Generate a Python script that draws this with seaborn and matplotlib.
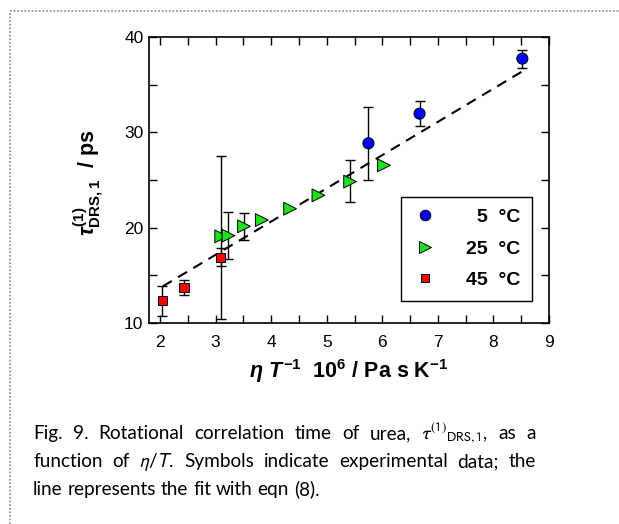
import numpy as np
import pandas as pd
import matplotlib
matplotlib.use("Agg")
import matplotlib.pyplot as plt
from matplotlib.lines import Line2D
from matplotlib.ticker import MultipleLocator
from matplotlib.transforms import IdentityTransform
import seaborn as sns

# data
x_5 = [5.75, 6.67, 8.52]
tau_5 = [28.85, 31.96, 37.73]
lo_5 = [25.03, 30.70, 36.80]
hi_5 = [32.66, 33.30, 38.60]

x_25 = [3.10, 3.23, 3.51, 3.83, 4.34, 4.85, 5.42, 6.03]
tau_25 = [19.09, 19.16, 20.14, 20.80, 21.99, 23.39, 24.83, 26.54]
lo_25 = [10.42, 16.71, 18.71, np.nan, np.nan, np.nan, 22.69, np.nan]
hi_25 = [27.55, 21.68, 21.57, np.nan, np.nan, np.nan, 27.06, np.nan]

x_45 = [2.04, 2.43, 3.09]
tau_45 = [12.34, 13.74, 16.89]
lo_45 = [10.77, 12.94, 15.94]
hi_45 = [13.92, 14.55, 17.83]

fit_x = [2.05, 8.55]
fit_y = [13.85, 36.50]

groups = ["5 °C", "25 °C", "45 °C"]
colors = {"5 °C": "#0000ff", "25 °C": "#1ee01e", "45 °C": "#ff0000"}
markers = {"5 °C": "o", "25 °C": ">", "45 °C": "s"}
msize = {"5 °C": 8.0, "25 °C": 9.2, "45 °C": 6.8}

df = pd.concat([
    pd.DataFrame({"x": x_5, "tau": tau_5, "lo": lo_5, "hi": hi_5, "T": "5 °C"}),
    pd.DataFrame({"x": x_25, "tau": tau_25, "lo": lo_25, "hi": hi_25, "T": "25 °C"}),
    pd.DataFrame({"x": x_45, "tau": tau_45, "lo": lo_45, "hi": hi_45, "T": "45 °C"}),
], ignore_index=True)
fit = pd.DataFrame({"x": fit_x, "y": fit_y})

sns.set_theme(style="ticks")
plt.rcParams["font.family"] = ["Liberation Sans", "DejaVu Sans"]
plt.rcParams["mathtext.fontset"] = "custom"
plt.rcParams["mathtext.rm"] = "Liberation Sans:bold"
plt.rcParams["mathtext.it"] = "Liberation Sans:italic:bold"
plt.rcParams["mathtext.bf"] = "Liberation Sans:bold"

fig = plt.figure(figsize=(6.19, 5.24), dpi=100)
ax = fig.add_axes([0.2407, 0.3836, 0.6462, 0.5458])

# dashed fit line
sns.lineplot(data=fit, x="x", y="y", ax=ax, color="black", lw=1.5,
             dashes=False, zorder=1).lines[0].set_dashes((5, 3.5))

# error bars
err = df.dropna(subset=["lo"])
ax.errorbar(err["x"], err["tau"], yerr=[err["tau"] - err["lo"], err["hi"] - err["tau"]],
            fmt="none", ecolor="black", elinewidth=1.0, capsize=3.6, capthick=1.0, zorder=2)

# symbols
sns.scatterplot(data=df, x="x", y="tau", hue="T", style="T", size="T",
                palette=colors, markers=markers,
                sizes={k: v ** 2 for k, v in msize.items()},
                edgecolor="black", linewidth=0.7, legend=False, ax=ax, zorder=3)

ax.set_xlim(1.8, 9)
ax.set_ylim(10, 40)
ax.xaxis.set_major_locator(MultipleLocator(1))
ax.xaxis.set_minor_locator(MultipleLocator(0.5))
ax.yaxis.set_major_locator(MultipleLocator(10))
ax.yaxis.set_minor_locator(MultipleLocator(5))
ax.tick_params(which="both", direction="in", top=True, right=True,
               length=5.5, width=1.0, color="black")
ax.tick_params(axis="x", labelsize=12.5, pad=9, labelcolor="black")
ax.tick_params(axis="y", labelsize=12.5, pad=4, labelcolor="black")
for s in ax.spines.values():
    s.set_linewidth(1.2)
    s.set_color("black")

ax.set_xlabel(r"$\eta\ T^{-1}$  10$^{6}$ / Pa s K$^{-1}$", fontsize=15.5,
              fontweight="bold", labelpad=5, color="black")
ax.set_ylabel(r"$\tau^{(1)}_{\mathrm{DRS,1}}$  / ps", fontsize=15.5,
              fontweight="bold", labelpad=3, color="black")
ax.yaxis.set_label_coords(-0.108, 0.49)

handles = [Line2D([], [], ls="none", marker=markers[g], markersize=msize[g] * 0.95,
                  markerfacecolor=colors[g], markeredgecolor="black", markeredgewidth=0.7)
           for g in groups]
labels = ["\u2007" + g.replace(" ", "  ") if len(g) < 5 else g.replace(" ", "  ") for g in groups]
leg = ax.legend(handles, labels, loc="lower right", bbox_to_anchor=(0.9575, 0.077),
                frameon=True, fancybox=False, framealpha=1, edgecolor="black",
                prop={"weight": "bold", "size": 14}, handlelength=1.3,
                handletextpad=1.45, borderpad=0.6, labelspacing=0.72,
                borderaxespad=0)
leg.get_frame().set_linewidth(1.0)
for t in leg.get_texts():
    t.set_color("black")

# dotted frame of the figure box
fig.add_artist(Line2D([10 / 619, 1], [1 - 11 / 524, 1 - 11 / 524], transform=fig.transFigure,
                      color="#999999", lw=1.3, ls=(0, (1, 1))))
fig.add_artist(Line2D([10 / 619, 10 / 619], [0, 1 - 11 / 524], transform=fig.transFigure,
                      color="#999999", lw=1.3, ls=(0, (1, 1))))

# caption, justified
cap_lines = [
    ["Fig.", "9.", "Rotational", "correlation", "time", "of", "urea,",
     r"$\tau^{(1)}{}_{\mathrm{DRS,1}}$,", "as", "a"],
    ["function", "of", r"$\eta$/$T$.", "Symbols", "indicate", "experimental", "data;", "the"],
    ["line", "represents", "the", "fit", "with", "eqn", "(8)."],
]
cap_base = [439, 467, 495]
cap_x0, cap_x1 = 33, 536
H = 524
cap_kw = dict(fontsize=13.7, family=["Lato", "DejaVu Sans"], color="black",
              va="baseline", ha="left", transform=IdentityTransform(),
              math_fontfamily="stixsans")
fig.canvas.draw()
r = fig.canvas.get_renderer()
sp = fig.text(0, 0, "a a", **cap_kw)
nsp = fig.text(0, 0, "aa", **cap_kw)
space = sp.get_window_extent(r).width - nsp.get_window_extent(r).width
sp.remove()
nsp.remove()
for i, (words, yb) in enumerate(zip(cap_lines, cap_base)):
    ts = [fig.text(0, H - yb, w, **cap_kw) for w in words]
    ws = [t.get_window_extent(r).width for t in ts]
    if i < len(cap_lines) - 1:
        gap = (cap_x1 - cap_x0 - sum(ws)) / (len(ws) - 1)
    else:
        gap = space
    xx = cap_x0
    for t, w in zip(ts, ws):
        t.set_x(xx)
        xx += w + gap

fig.savefig("out.png", dpi=100)
